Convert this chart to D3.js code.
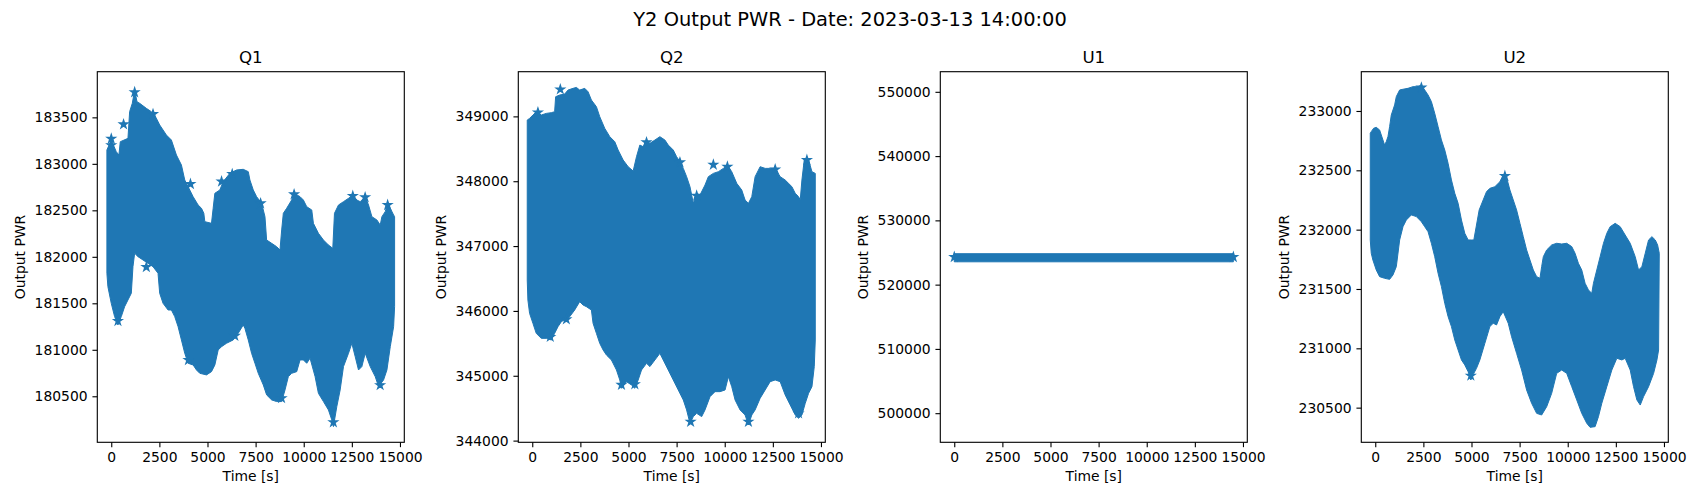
<!DOCTYPE html>
<html><head><meta charset="utf-8">
<script src="https://cdn.jsdelivr.net/npm/d3@7/dist/d3.min.js"></script>
<style>
body{margin:0;background:#fff}
svg{display:block}
text{font-family:"DejaVu Sans",sans-serif}
</style>
</head><body>
<svg id="chart" width="1700" height="500"></svg>
<script>
// ---------------- data ----------------
const suptitle = "Y2 Output PWR - Date: 2023-03-13 14:00:00";
const panelTitles = ["Q1", "Q2", "U1", "U2"];
const xLabel = "Time [s]";
const yLabel = "Output PWR";
const xTicks = [0, 2500, 5000, 7500, 10000, 12500, 15000];
const xLimits = [-725, 15225];

const yTicksQ1 = [180500, 181000, 181500, 182000, 182500, 183000, 183500];
const yTicksQ2 = [344000, 345000, 346000, 347000, 348000, 349000];
const yTicksU1 = [500000, 510000, 520000, 530000, 540000, 550000];
const yTicksU2 = [230500, 231000, 231500, 232000, 232500, 233000];

const yLimitsQ1 = [180005, 183991];
const yLimitsQ2 = [343974, 349689];
const yLimitsU1 = [495470, 553130];
const yLimitsU2 = [230208, 233331];

// upper / lower edge of the dense band of star markers: [time, value]
const upperQ1 = [[-226,183149],[0,183256],[260,183131],[399,183095],[469,183238],[868,183274],[955,183561],[1094,183651],[1215,183794],[1337,183668],[1476,183651],[1823,183597],[2083,183561],[2344,183489],[2517,183418],[2691,183364],[2864,183310],[3125,183256],[3385,183095],[3646,182987],[3819,182826],[4253,182647],[4514,182557],[4687,182522],[4809,182468],[4861,182378],[5208,182360],[5295,182522],[5382,182683],[5642,182719],[5816,182808],[6163,182898],[6510,182934],[6857,182941],[7118,182916],[7204,182826],[7378,182719],[7552,182647],[7812,182575],[7986,182432],[8072,182181],[8333,182145],[8593,182109],[8767,182073],[8854,182289],[8940,182468],[9114,182522],[9374,182611],[9496,182683],[9808,182647],[9982,182611],[10156,182539],[10416,182504],[10503,182360],[10763,182253],[11024,182181],[11284,182127],[11510,182091],[11597,182468],[11805,182557],[12065,182593],[12326,182629],[12551,182665],[12760,182611],[12933,182593],[13194,182647],[13367,182557],[13541,182432],[13801,182396],[13975,182342],[14062,182432],[14235,182486],[14357,182575],[14496,182522],[14669,182450],[14721,182432]];
const lowerQ1 = [[-226,181823],[-174,181679],[0,181500],[174,181357],[347,181267],[521,181357],[694,181464],[868,181536],[1042,181608],[1128,181894],[1215,182038],[1389,182002],[1649,181966],[2170,181894],[2430,181823],[2517,181608],[2691,181500],[2951,181428],[3125,181428],[3298,181357],[3472,181249],[3646,181106],[3819,180963],[3993,180855],[4253,180837],[4427,180783],[4600,180747],[4948,180730],[5208,180765],[5382,180837],[5555,180998],[5729,181034],[5989,181070],[6336,181106],[6597,181178],[6857,181267],[6944,181231],[7118,181106],[7291,180963],[7465,180855],[7638,180747],[7899,180622],[8072,180515],[8333,180461],[8593,180443],[8854,180443],[9027,180568],[9201,180712],[9374,180747],[9635,180765],[9808,180891],[9982,180891],[10156,180855],[10329,180909],[10590,180712],[10763,180532],[11024,180443],[11284,180353],[11458,180246],[11544,180174],[11718,180389],[11892,180568],[12065,180819],[12326,180963],[12499,181070],[12673,180927],[12846,180783],[13020,180819],[13194,180963],[13454,180819],[13714,180712],[13888,180604],[14148,180676],[14322,180783],[14496,181034],[14669,181249],[14721,181464]];
const starsQ1 = [[0,183270],[0,183200],[640,183425],[1215,183770],[2170,183535],[4115,182783],[5730,182810],[6285,182890],[7760,182575],[9500,182672],[12550,182654],[13190,182640],[14360,182557],[1823,181890],[4010,180890],[6420,181150],[8850,180480],[11540,180220],[13970,180620],[347,181310]];

const upperQ2 = [[-260,348943],[-139,348969],[35,349021],[208,349072],[469,349021],[729,349046],[990,349057],[1163,349072],[1215,349303],[1424,349329],[1684,349344],[1858,349406],[2118,349432],[2292,349447],[2465,349406],[2726,349432],[2899,349380],[3073,349252],[3333,349149],[3507,348995],[3767,348815],[4028,348687],[4288,348609],[4462,348481],[4722,348327],[4982,348224],[5243,348157],[5416,348378],[5590,348558],[5764,348532],[5937,348635],[6111,348584],[6371,348635],[6632,348687],[6892,348635],[7066,348558],[7326,348481],[7500,348378],[7673,348301],[7847,348198],[8020,348070],[8194,347916],[8368,347659],[8541,347813],[8715,347787],[8975,347941],[9149,348070],[9409,348121],[9670,348147],[9930,348198],[10138,348250],[10364,348147],[10624,347967],[10885,347864],[11058,347710],[11232,347659],[11406,347762],[11579,348070],[11840,348224],[12100,348198],[12360,348198],[12621,348198],[12881,348070],[13142,348018],[13315,347967],[13489,347916],[13663,347813],[13836,347762],[13923,347710],[14010,348018],[14131,348327],[14357,348327],[14531,348147],[14704,348121]];
const lowerQ2 = [[-260,346477],[-226,346168],[-139,345963],[35,345809],[208,345654],[469,345577],[729,345577],[990,345552],[1163,345654],[1337,345757],[1510,345834],[1944,345911],[2205,346014],[2465,346143],[2639,346091],[2812,346066],[3073,346014],[3160,345809],[3333,345654],[3507,345500],[3680,345398],[3854,345320],[4114,345243],[4375,345089],[4548,344935],[4635,344807],[4896,344909],[5156,344858],[5330,344807],[5503,344935],[5677,345089],[5937,345192],[6111,345141],[6371,345243],[6632,345346],[6805,345243],[7066,345089],[7326,344935],[7586,344781],[7847,344627],[8020,344473],[8194,344267],[8368,344370],[8541,344421],[8802,344370],[8975,344473],[9236,344678],[9496,344755],[9756,344755],[10017,344781],[10190,344986],[10364,344832],[10538,344627],[10798,344473],[11058,344395],[11232,344241],[11406,344395],[11579,344473],[11840,344653],[12100,344781],[12360,344909],[12621,344935],[12881,344909],[13142,344704],[13402,344550],[13663,344395],[13836,344344],[14010,344395],[14183,344575],[14357,344730],[14531,344832],[14652,345141],[14704,345552]];
const starsQ2 = [[1458,349416],[295,349062],[5937,348600],[9409,348255],[10138,348224],[8541,347777],[7673,348291],[12621,348183],[14270,348327],[1771,345870],[937,345600],[4635,344860],[5330,344870],[8228,344290],[11232,344290],[13836,344420]];

const upperU1 = [[0,524813],[14500,524813]];
const lowerU1 = [[0,523553],[14500,523553]];
const starsU1 = [[0,524300],[14500,524300]];

const upperU2 = [[-260,232812],[-208,232826],[-87,232854],[52,232862],[226,232840],[399,232756],[486,232713],[573,232742],[660,232784],[746,232868],[833,232966],[1007,233051],[1094,233121],[1267,233177],[1441,233183],[1701,233191],[1962,233205],[2222,233205],[2396,233219],[2569,233177],[2743,233135],[2916,233079],[3090,232980],[3264,232868],[3437,232756],[3611,232671],[3784,232559],[3958,232419],[4132,232306],[4305,232222],[4479,232081],[4652,231969],[4826,231913],[5000,231913],[5121,231913],[5260,232039],[5399,232166],[5607,232250],[5781,232320],[5954,232348],[6215,232362],[6475,232404],[6649,232461],[6857,232419],[6996,232334],[7170,232250],[7343,232166],[7517,232053],[7690,231941],[7864,231829],[8038,231744],[8211,231660],[8385,231604],[8558,231590],[8645,231688],[8732,231772],[8906,231829],[9166,231871],[9426,231885],[9687,231879],[9947,231885],[10208,231857],[10381,231801],[10555,231716],[10728,231660],[10902,231548],[11076,231492],[11249,231463],[11336,231548],[11510,231660],[11683,231772],[11857,231885],[12030,231969],[12204,232025],[12465,232053],[12725,232025],[12985,231955],[13246,231885],[13506,231772],[13680,231660],[13853,231688],[14027,231801],[14200,231913],[14374,231941],[14548,231913],[14669,231871],[14756,231801]];
const lowerU2 = [[-260,231913],[-208,231801],[-122,231744],[52,231660],[226,231604],[486,231590],[746,231581],[920,231618],[1094,231688],[1267,231913],[1441,232025],[1614,232081],[1875,232124],[2135,232110],[2396,232067],[2569,232025],[2743,231983],[2916,231885],[3090,231772],[3264,231632],[3437,231520],[3611,231379],[3784,231267],[3958,231183],[4132,231070],[4305,230986],[4479,230902],[4652,230860],[4826,230803],[4965,230733],[5121,230789],[5260,230831],[5434,230902],[5694,231042],[5954,231183],[6128,231211],[6302,231197],[6475,231267],[6649,231309],[6909,231211],[7083,231098],[7343,230958],[7604,230817],[7864,230649],[8124,230537],[8385,230452],[8645,230438],[8906,230508],[9166,230621],[9426,230789],[9687,230817],[9947,230789],[10208,230677],[10468,230565],[10728,230452],[10989,230368],[11162,230334],[11422,230340],[11596,230424],[11770,230537],[12030,230677],[12291,230817],[12551,230916],[12812,230902],[12985,230916],[13246,230817],[13419,230677],[13593,230565],[13767,230522],[13940,230593],[14200,230677],[14461,230789],[14634,230902],[14721,230986]];
const starsU2 = [[2396,233197],[6736,232452],[4965,230770]];

const panels = [
  {title: panelTitles[0], upper: upperQ1, lower: lowerQ1, stars: starsQ1, yLim: yLimitsQ1, yTicks: yTicksQ1},
  {title: panelTitles[1], upper: upperQ2, lower: lowerQ2, stars: starsQ2, yLim: yLimitsQ2, yTicks: yTicksQ2},
  {title: panelTitles[2], upper: upperU1, lower: lowerU1, stars: starsU1, yLim: yLimitsU1, yTicks: yTicksU1},
  {title: panelTitles[3], upper: upperU2, lower: lowerU2, stars: starsU2, yLim: yLimitsU2, yTicks: yTicksU2}
];

// ---------------- layout / style ----------------
const axesLeft = [97.3, 518.3, 940.3, 1361.3];
const axesTop = 71.7, axesW = 307, axesH = 370.6;
const blue = "#1f77b4";
const pt = 100 / 72;

const svg = d3.select("#chart");
svg.append("rect").attr("width", 1700).attr("height", 500).attr("fill", "#fff");

svg.append("text")
  .attr("x", 850).attr("y", 25.7)
  .attr("text-anchor", "middle")
  .attr("font-size", 14 * pt)
  .attr("fill", "#000")
  .text(suptitle);

const star = d3.symbol().type(d3.symbolStar).size(19.5);

panels.forEach((p, i) => {
  const g = svg.append("g").attr("transform", `translate(${axesLeft[i]},${axesTop})`);
  const x = d3.scaleLinear().domain(xLimits).range([0, axesW]);
  const y = d3.scaleLinear().domain(p.yLim).range([axesH, 0]);

  const band = d3.line().x(d => x(d[0])).y(d => y(d[1])).curve(d3.curveLinearClosed);
  g.append("path")
    .attr("d", band(p.upper.concat(p.lower.slice().reverse())))
    .attr("fill", blue).attr("stroke", blue).attr("stroke-width", 1).attr("stroke-linejoin", "round");

  g.selectAll("path.star").data(p.stars).join("path")
    .attr("class", "star")
    .attr("transform", d => `translate(${x(d[0])},${y(d[1])})`)
    .attr("d", star)
    .attr("fill", blue).attr("stroke", blue).attr("stroke-width", pt);

  const xa = g.append("g").attr("transform", `translate(0,${axesH})`)
    .call(d3.axisBottom(x).tickValues(xTicks).tickSize(3.5 * pt).tickPadding(3.5 * pt).tickFormat(d3.format("d")));
  const ya = g.append("g")
    .call(d3.axisLeft(y).tickValues(p.yTicks).tickSize(3.5 * pt).tickPadding(3.5 * pt).tickFormat(d3.format("d")));
  [xa, ya].forEach(a => {
    a.select(".domain").remove();
    a.attr("font-family", "DejaVu Sans").attr("font-size", 10 * pt);
    a.selectAll("line").attr("stroke", "#000").attr("stroke-width", 0.8 * pt);
    a.selectAll("text").attr("fill", "#000");
  });

  g.append("rect").attr("width", axesW).attr("height", axesH)
    .attr("fill", "none").attr("stroke", "#000").attr("stroke-width", 0.8 * pt);

  g.append("text")
    .attr("x", axesW / 2).attr("y", -6 * pt)
    .attr("text-anchor", "middle").attr("font-size", 12 * pt).attr("fill", "#000")
    .text(p.title);

  g.append("text")
    .attr("x", axesW / 2).attr("y", 481 - axesTop)
    .attr("text-anchor", "middle").attr("font-size", 10 * pt).attr("fill", "#000")
    .text(xLabel);

  g.append("text")
    .attr("transform", `translate(-77.3,${axesH / 2}) rotate(-90)`)
    .attr("text-anchor", "middle").attr("dominant-baseline", "central")
    .attr("font-size", 10 * pt).attr("fill", "#000")
    .text(yLabel);
});
</script>
</body></html>
